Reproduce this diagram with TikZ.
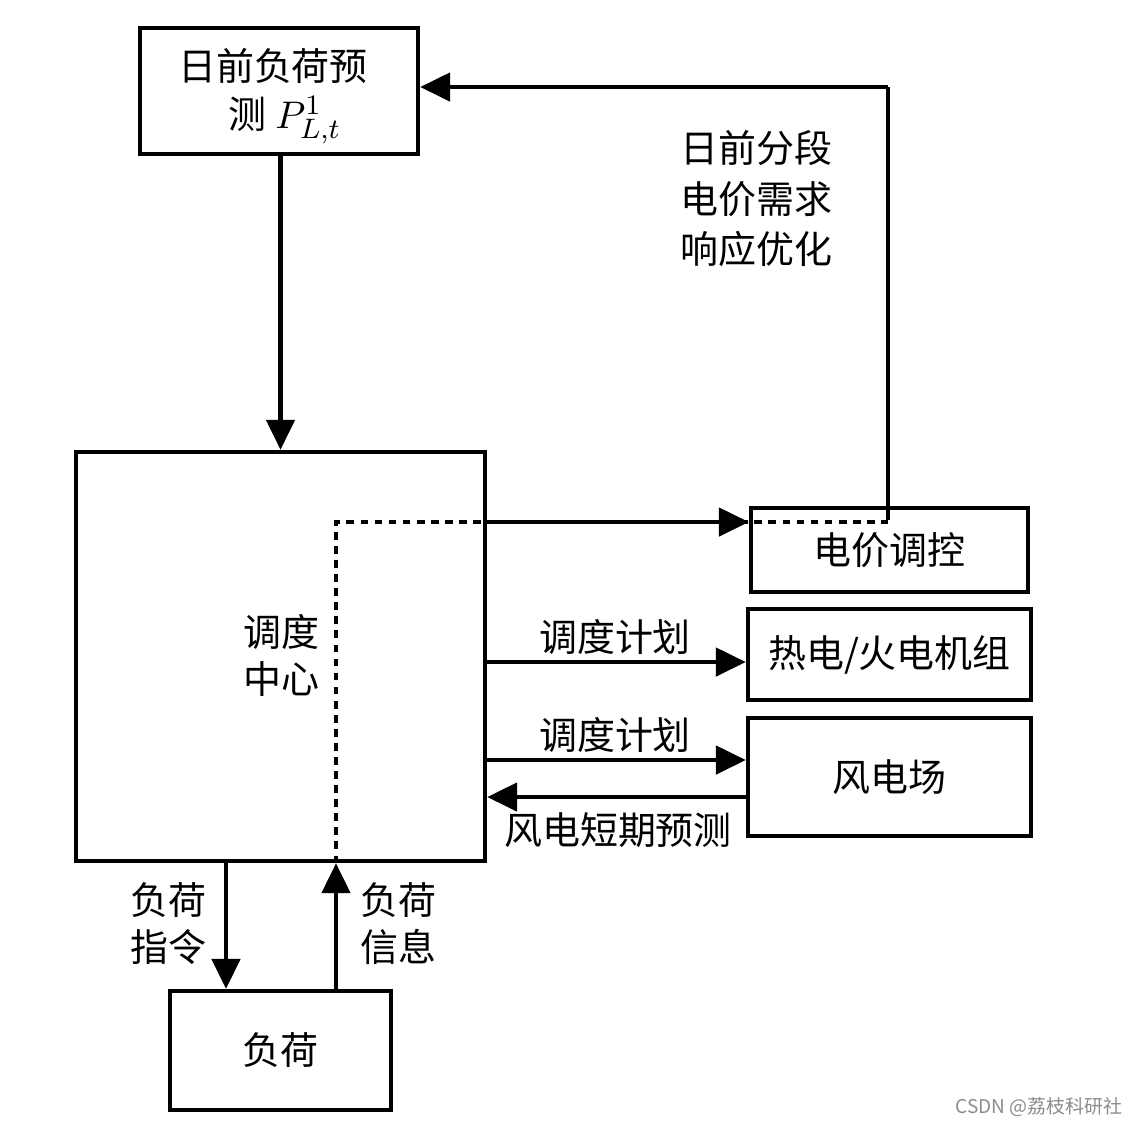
\documentclass[tikz,border=0pt]{standalone}
\usepackage{fontspec}
\setmainfont{Noto Sans CJK SC}
\usetikzlibrary{arrows.meta,calc}
\begin{document}
\begin{tikzpicture}[x=0.01cm,y=-0.01cm,
  lw/.style={line width=1.2pt},
  box/.style={draw,lw,rectangle,inner sep=0pt,align=center,font=\fontsize{10.8}{13.4}\selectfont},
  arr/.style={lw,-{Triangle[length=8.5pt,width=8pt]}},
  lbl/.style={inner sep=0pt,font=\fontsize{10.8}{13.4}\selectfont},
  dotline/.style={lw,dash pattern=on 2.2pt off 1.8pt}]
\fill[white] (0,0) rectangle (1140,1126);
\useasboundingbox (0,0) rectangle (1140,1126);
% boxes
\node[box,minimum width=2.78cm,minimum height=1.26cm] (top) at (279,91) {};
\node[lbl,anchor=base] (tt1) at (273,80) {日前负荷预};
\node[lbl,anchor=base] (tt2) at (285,128) {测 $P^{1}_{L,t}$};
\node[box,minimum width=4.09cm,minimum height=4.09cm] (dc) at (280.5,656.5) {};
\node[lbl,align=center] (dct) at (281,655) {调度\\中心};
\node[box,minimum width=2.77cm,minimum height=0.84cm] (pc) at (889.5,550) {电价调控};
\node[box,minimum width=2.83cm,minimum height=0.91cm] (th) at (889.5,654.5) {热电/火电机组};
\node[box,minimum width=2.83cm,minimum height=1.18cm] (wf) at (889.5,777) {风电场};
\node[box,minimum width=2.21cm,minimum height=1.19cm] (ld) at (280.5,1050.5) {负荷};
% helper coordinates
\coordinate (yp) at (0,522);
\coordinate (xr) at (888,0);
\coordinate (yt) at (0,87);
\coordinate (xd) at (336,0);
\coordinate (xi) at (226,0);
\coordinate (y1) at (0,662);
\coordinate (y2) at (0,760);
\coordinate (y3) at (0,797);
% dotted path
\draw[dotline] (xd |- dc.south) -- (xd |- yp) -- (xr |- yp);
% top to dispatch
\draw[arr] (top.south -| dc.north) -- (dc.north);
% price feedback
\draw[lw] (xr |- 0,520) -- (xr |- yt);
\draw[arr] (xr |- yt) -- (top.east |- yt);
\node[lbl,align=left,anchor=north west] (lab1) at (680,130) {日前分段\\[0.9pt]电价需求\\[0.9pt]响应优化};
% dispatch to price
\draw[arr] (dc.east |- yp) -- (pc.west |- yp);
% schedules
\draw[arr] (dc.east |- y1) -- (th.west |- y1);
\node[lbl] (l1) at (615,637) {调度计划};
\draw[arr] (dc.east |- y2) -- (wf.west |- y2);
\node[lbl] (l2) at (615,735) {调度计划};
\draw[arr] (wf.west |- y3) -- (dc.east |- y3);
\node[lbl] (l3) at (618,830) {风电短期预测};
% load
\draw[arr] (xi |- dc.south) -- (xi |- ld.north);
\draw[arr] (xd |- ld.north) -- (xd |- dc.south);
\node[lbl,align=left] (l4) at (168,924) {负荷\\指令};
\node[lbl,align=left] (l5) at (398,924) {负荷\\信息};
% watermark
\node[inner sep=0pt,text=black!45,font=\fontsize{5.4}{6}\selectfont] (wm) at (1039,1107) {CSDN @荔枝科研社};
\end{tikzpicture}
\end{document}
